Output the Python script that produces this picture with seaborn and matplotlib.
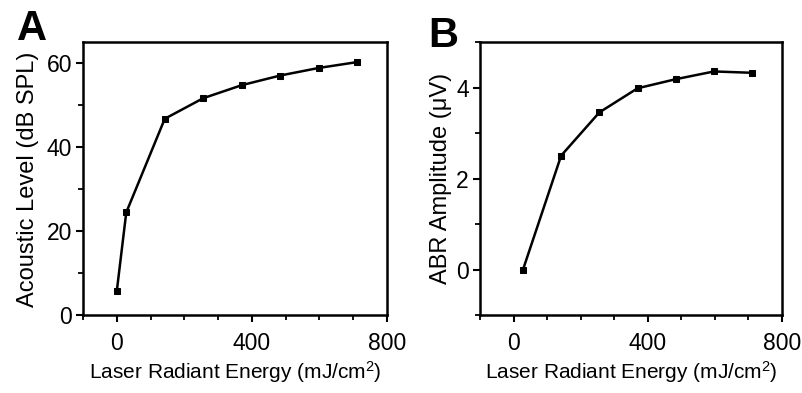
import pandas as pd
import matplotlib
matplotlib.use("Agg")
import matplotlib.pyplot as plt
from matplotlib.ticker import MultipleLocator
import seaborn as sns

# values
energy_a = [0, 28, 142, 256, 370, 484, 598, 712]
acoustic_level = [5.8, 24.5, 46.8, 51.7, 54.8, 57.1, 58.9, 60.3]

energy_b = [28, 142, 256, 370, 484, 598, 712]
abr_amplitude = [0.0, 2.51, 3.46, 3.99, 4.19, 4.36, 4.33]

df_a = pd.DataFrame({"Energy": energy_a, "Level": acoustic_level})
df_b = pd.DataFrame({"Energy": energy_b, "Amplitude": abr_amplitude})

sns.set_style("ticks")
plt.rcParams["font.family"] = ["Liberation Sans", "DejaVu Sans"]
plt.rcParams["mathtext.fontset"] = "custom"
plt.rcParams["mathtext.rm"] = "Liberation Sans"
plt.rcParams["mathtext.it"] = "Liberation Sans"
plt.rcParams["text.color"] = "black"
plt.rcParams["axes.labelcolor"] = "black"
plt.rcParams["xtick.color"] = "black"
plt.rcParams["ytick.color"] = "black"

fig = plt.figure(figsize=(8.03, 3.93), dpi=100)
ax_a = fig.add_axes([0.1034, 0.1977, 0.3786, 0.6946])
ax_b = fig.add_axes([0.5978, 0.1977, 0.3757, 0.6946])

line_kw = dict(color="black", linewidth=1.8, marker="s", markersize=5,
               markeredgecolor="black", markerfacecolor="black")

sns.lineplot(data=df_a, x="Energy", y="Level", ax=ax_a, **line_kw)
sns.lineplot(data=df_b, x="Energy", y="Amplitude", ax=ax_b, **line_kw)

xlabel = "Laser Radiant Energy (mJ/cm$^{2}$)"

# panel A
ax_a.set_xlim(-100, 800)
ax_a.set_ylim(0, 65)
ax_a.yaxis.set_major_locator(MultipleLocator(20))
ax_a.yaxis.set_minor_locator(MultipleLocator(10))
ax_a.set_ylabel("Acoustic Level (dB SPL)", fontsize=17, labelpad=5)

# panel B
ax_b.set_xlim(-100, 800)
ax_b.set_ylim(-1, 5)
ax_b.yaxis.set_major_locator(MultipleLocator(2))
ax_b.yaxis.set_minor_locator(MultipleLocator(1))
ax_b.set_ylabel("ABR Amplitude (\u03bcV)", fontsize=17, labelpad=3)

for ax in (ax_a, ax_b):
    ax.xaxis.set_major_locator(MultipleLocator(400))
    ax.xaxis.set_minor_locator(MultipleLocator(100))
    ax.set_xlabel(xlabel, fontsize=15, labelpad=3)
    ax.tick_params(which="major", direction="out", length=5, width=1.5,
                   labelsize=16.5, pad=3)
    ax.tick_params(axis="x", which="major", pad=7)
    ax.tick_params(which="minor", direction="out", length=3.5, width=1.3)
    for sp in ax.spines.values():
        sp.set_visible(True)
        sp.set_linewidth(1.8)
        sp.set_color("black")

fig.text(0.021, 0.898, "A", fontsize=30, fontweight="bold")
fig.text(0.533, 0.88, "B", fontsize=30, fontweight="bold")

fig.savefig("out.png", dpi=100)
